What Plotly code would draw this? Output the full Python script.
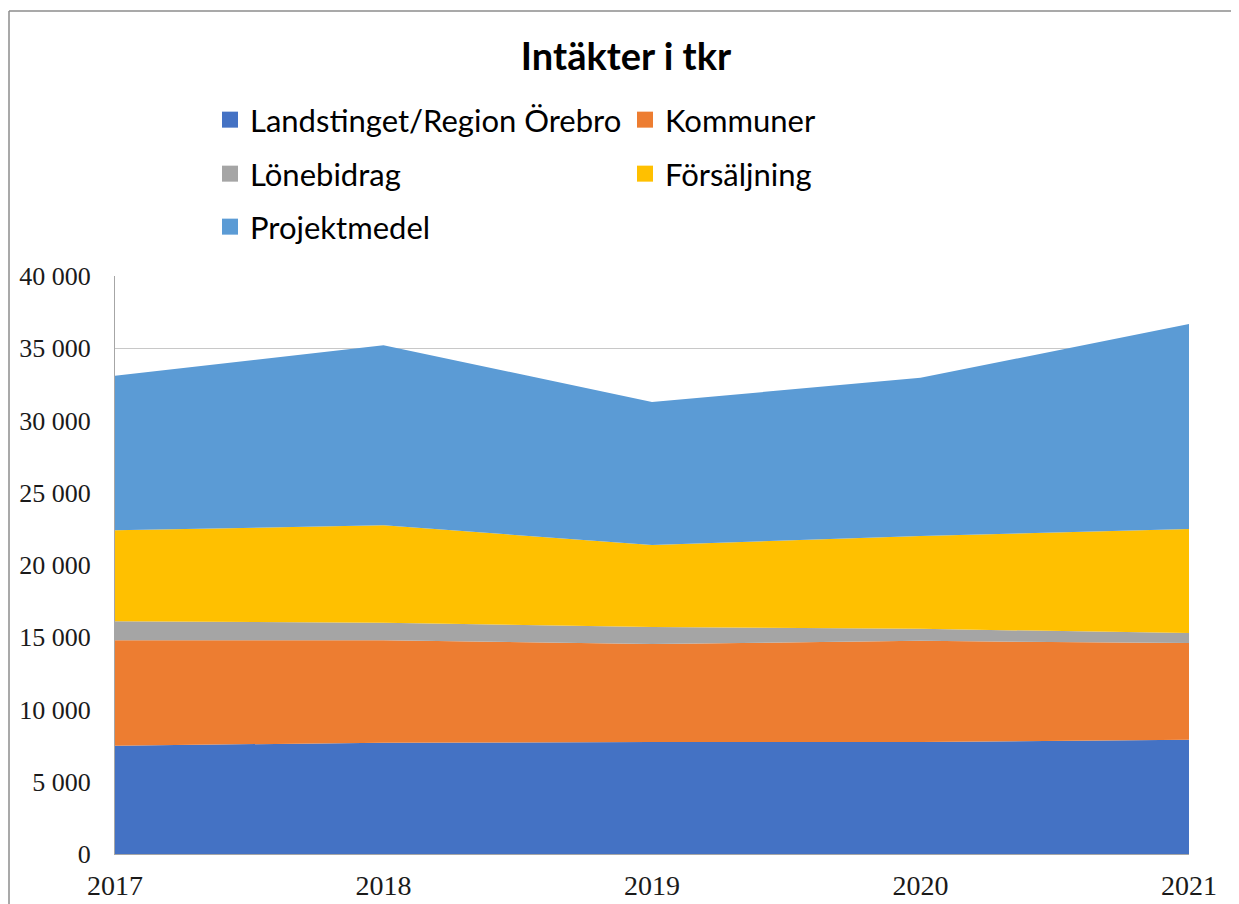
import plotly.graph_objects as go

years = [2017, 2018, 2019, 2020, 2021]
series_names = ["Landstinget/Region Örebro", "Kommuner", "Lönebidrag", "Försäljning", "Projektmedel"]
landstinget = [7500, 7700, 7750, 7750, 7900]
kommuner = [7300, 7100, 6780, 7000, 6700]
lonebidrag = [1300, 1200, 1180, 830, 690]
forsaljning = [6300, 6750, 5670, 6430, 7200]
projektmedel = [10700, 12450, 9900, 10940, 14190]
colors = ["#4472C4", "#ED7D31", "#A5A5A5", "#FFC000", "#5B9BD5"]
y_ticks = [0, 5000, 10000, 15000, 20000, 25000, 30000, 35000, 40000]

values = [landstinget, kommuner, lonebidrag, forsaljning, projektmedel]
legend_ids = ["legend", "legend", "legend2", "legend2", "legend3"]

fig = go.Figure()
for name, vals, col in zip(series_names, values, colors):
    fig.add_trace(go.Scatter(
        x=years, y=vals, name=name, mode="lines", stackgroup="one",
        line=dict(width=0, color=col), fillcolor=col, showlegend=False,
        hoverinfo="x+y+name"))
for name, col, lg in zip(series_names, colors, legend_ids):
    fig.add_trace(go.Scatter(
        x=[None], y=[None], name=name, mode="markers",
        marker=dict(symbol="square", size=16, color=col), legend=lg))

W, H = 1239, 904
OFF = 8  # page body margin
# desired plot area in screen pixels: x 115..1189, y 276..854
L = 115 - OFF
T = 276 - OFF
R = W - (1189 - OFF)
B = H - (854 - OFF)
pw, ph = W - L - R, H - T - B

def px_x(sx):
    return (sx - OFF - L) / pw

def px_y(sy):
    return (H - B - (sy - OFF)) / ph

legend_font = dict(family="Lato", size=31, color="#000000")
leg_common = dict(orientation="h", xanchor="left", yanchor="middle",
                  font=legend_font, entrywidth=370, entrywidthmode="pixels",
                  bgcolor="rgba(0,0,0,0)", traceorder="normal", itemclick=False)

fig.update_layout(
    width=W, height=H,
    margin=dict(l=L, r=R, t=T, b=B),
    paper_bgcolor="white", plot_bgcolor="white",
    separators=", ",
    title=dict(text="<b>Intäkter i tkr</b>", x=(626 - OFF) / W, xref="container", xanchor="center",
               y=1 - (57 - OFF) / H, yref="container", yanchor="middle",
               font=dict(family="Lato", size=38, color="#000000")),
    legend=dict(x=px_x(210), y=px_y(120), **leg_common),
    legend2=dict(x=px_x(210), y=px_y(174), **leg_common),
    legend3=dict(x=px_x(210), y=px_y(227), **leg_common),
    xaxis=dict(range=[2017, 2021], tickvals=years, ticktext=[str(y) for y in years],
               showgrid=False, zeroline=False, showline=True, linecolor="#A6A6A6", linewidth=1,
               ticks="", ticklabelstandoff=6, automargin=False,
               tickfont=dict(family="Liberation Serif", size=28, color="#1a1a1a")),
    yaxis=dict(range=[0, 40000], tickvals=y_ticks, tickformat=",d",
               showgrid=True, gridcolor="#C8C8C8", gridwidth=1, zeroline=False,
               showline=True, linecolor="#A6A6A6", linewidth=1,
               ticks="", ticklabelstandoff=18, automargin=False,
               tickfont=dict(family="Liberation Serif", size=26, color="#1a1a1a")),
    shapes=[
        dict(type="line", xref="paper", yref="paper", x0=px_x(9), x1=px_x(1260),
             y0=px_y(11), y1=px_y(11), line=dict(color="#8C8C8C", width=1.5)),
        dict(type="line", xref="paper", yref="paper", x0=px_x(9), x1=px_x(9),
             y0=px_y(11), y1=px_y(930), line=dict(color="#8C8C8C", width=1.5)),
    ],
)

fig.write_html("out.html", post_script="document.body.style.overflow='hidden';")
